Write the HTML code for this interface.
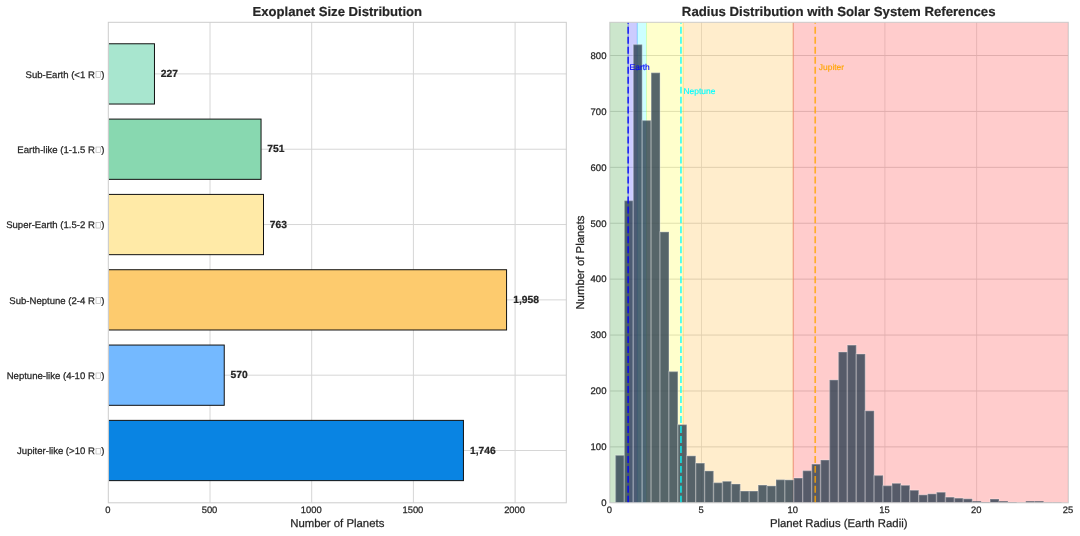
<!DOCTYPE html>
<html><head><meta charset="utf-8"><title>Exoplanet charts</title>
<style>html,body{margin:0;padding:0;background:#fff;}body{width:1080px;height:536px;overflow:hidden;font-family:"Liberation Sans",sans-serif;}svg{display:block;will-change:transform;}text{font-family:"Liberation Sans",sans-serif;text-rendering:geometricPrecision;stroke:#262626;stroke-width:0.25px;}text.b{stroke-width:0.22px;}text.t{stroke-width:0.2px;}text.c{stroke:none;}</style></head><body>
<svg width="1080" height="536" viewBox="0 0 1080 536">
<rect x="0" y="0" width="1080" height="536" fill="#ffffff"/>
<g stroke="#d6d6d6" stroke-width="1" fill="none">
<line x1="210.00" y1="22.3" x2="210.00" y2="502.8"/>
<line x1="311.70" y1="22.3" x2="311.70" y2="502.8"/>
<line x1="413.40" y1="22.3" x2="413.40" y2="502.8"/>
<line x1="515.10" y1="22.3" x2="515.10" y2="502.8"/>
<line x1="108.3" y1="73.90" x2="566.3" y2="73.90"/>
<line x1="108.3" y1="149.22" x2="566.3" y2="149.22"/>
<line x1="108.3" y1="224.54" x2="566.3" y2="224.54"/>
<line x1="108.3" y1="299.86" x2="566.3" y2="299.86"/>
<line x1="108.3" y1="375.18" x2="566.3" y2="375.18"/>
<line x1="108.3" y1="450.50" x2="566.3" y2="450.50"/>
</g>
<clipPath id="lc"><rect x="108.8" y="22.3" width="458.00" height="480.50"/></clipPath>
<g clip-path="url(#lc)">
<rect x="108.30" y="43.77" width="46.17" height="60.26" fill="#A8E6CF" stroke="#111111" stroke-width="1"/>
<rect x="108.30" y="119.09" width="152.75" height="60.26" fill="#88D8B0" stroke="#111111" stroke-width="1"/>
<rect x="108.30" y="194.41" width="155.20" height="60.26" fill="#FFEAA7" stroke="#111111" stroke-width="1"/>
<rect x="108.30" y="269.73" width="398.26" height="60.26" fill="#FDCB6E" stroke="#111111" stroke-width="1"/>
<rect x="108.30" y="345.05" width="115.94" height="60.26" fill="#74B9FF" stroke="#111111" stroke-width="1"/>
<rect x="108.30" y="420.37" width="355.14" height="60.26" fill="#0984E3" stroke="#111111" stroke-width="1"/>
</g>
<rect x="108.3" y="22.3" width="458.00" height="480.50" fill="none" stroke="#cccccc" stroke-width="1"/>
<text x="160.77" y="77.10" class="b" font-size="10.3" font-weight="bold" fill="#262626">227</text>
<text x="267.35" y="152.42" class="b" font-size="10.3" font-weight="bold" fill="#262626">751</text>
<text x="269.80" y="227.74" class="b" font-size="10.3" font-weight="bold" fill="#262626">763</text>
<text x="513.16" y="303.06" class="b" font-size="10.3" font-weight="bold" fill="#262626">1,958</text>
<text x="230.54" y="378.38" class="b" font-size="10.3" font-weight="bold" fill="#262626">570</text>
<text x="470.04" y="453.70" class="b" font-size="10.3" font-weight="bold" fill="#262626">1,746</text>
<text x="94.8" y="77.60" font-size="9.55" text-anchor="end" fill="#262626">Sub-Earth (&lt;1 R</text>
<rect x="96.0" y="71.70" width="4.6" height="5.7" fill="none" stroke="#999999" stroke-width="0.5"/>
<text x="104.4" y="77.60" font-size="9.55" text-anchor="end" fill="#262626">)</text>
<text x="94.8" y="152.92" font-size="9.55" text-anchor="end" fill="#262626">Earth-like (1-1.5 R</text>
<rect x="96.0" y="147.02" width="4.6" height="5.7" fill="none" stroke="#999999" stroke-width="0.5"/>
<text x="104.4" y="152.92" font-size="9.55" text-anchor="end" fill="#262626">)</text>
<text x="94.8" y="228.24" font-size="9.55" text-anchor="end" fill="#262626">Super-Earth (1.5-2 R</text>
<rect x="96.0" y="222.34" width="4.6" height="5.7" fill="none" stroke="#999999" stroke-width="0.5"/>
<text x="104.4" y="228.24" font-size="9.55" text-anchor="end" fill="#262626">)</text>
<text x="94.8" y="303.56" font-size="9.55" text-anchor="end" fill="#262626">Sub-Neptune (2-4 R</text>
<rect x="96.0" y="297.66" width="4.6" height="5.7" fill="none" stroke="#999999" stroke-width="0.5"/>
<text x="104.4" y="303.56" font-size="9.55" text-anchor="end" fill="#262626">)</text>
<text x="94.8" y="378.88" font-size="9.55" text-anchor="end" fill="#262626">Neptune-like (4-10 R</text>
<rect x="96.0" y="372.98" width="4.6" height="5.7" fill="none" stroke="#999999" stroke-width="0.5"/>
<text x="104.4" y="378.88" font-size="9.55" text-anchor="end" fill="#262626">)</text>
<text x="94.8" y="454.20" font-size="9.55" text-anchor="end" fill="#262626">Jupiter-like (&gt;10 R</text>
<rect x="96.0" y="448.30" width="4.6" height="5.7" fill="none" stroke="#999999" stroke-width="0.5"/>
<text x="104.4" y="454.20" font-size="9.55" text-anchor="end" fill="#262626">)</text>
<text x="107.80" y="512.5" font-size="9.4" text-anchor="middle" fill="#262626">0</text>
<text x="209.50" y="512.5" font-size="9.4" text-anchor="middle" fill="#262626">500</text>
<text x="311.20" y="512.5" font-size="9.4" text-anchor="middle" fill="#262626">1000</text>
<text x="412.90" y="512.5" font-size="9.4" text-anchor="middle" fill="#262626">1500</text>
<text x="514.60" y="512.5" font-size="9.4" text-anchor="middle" fill="#262626">2000</text>
<text x="337.30" y="526.7" font-size="11.37" text-anchor="middle" fill="#262626">Number of Planets</text>
<text x="337.30" y="16.4" class="t" font-size="13.1" font-weight="bold" text-anchor="middle" fill="#262626">Exoplanet Size Distribution</text>
<g stroke="#d9d9d9" stroke-width="1" fill="none">
<line x1="701.50" y1="22.3" x2="701.50" y2="502.8" stroke-width="0.75"/>
<line x1="793.20" y1="22.3" x2="793.20" y2="502.8" stroke-width="0.75"/>
<line x1="884.90" y1="22.3" x2="884.90" y2="502.8" stroke-width="0.75"/>
<line x1="976.60" y1="22.3" x2="976.60" y2="502.8" stroke-width="0.75"/>
<line x1="609.8" y1="446.89" x2="1068.3" y2="446.89"/>
<line x1="609.8" y1="390.98" x2="1068.3" y2="390.98"/>
<line x1="609.8" y1="335.06" x2="1068.3" y2="335.06"/>
<line x1="609.8" y1="279.15" x2="1068.3" y2="279.15"/>
<line x1="609.8" y1="223.24" x2="1068.3" y2="223.24"/>
<line x1="609.8" y1="167.33" x2="1068.3" y2="167.33"/>
<line x1="609.8" y1="111.41" x2="1068.3" y2="111.41"/>
<line x1="609.8" y1="55.50" x2="1068.3" y2="55.50"/>
</g>
<clipPath id="rc"><rect x="609.8" y="22.3" width="458.50" height="480.50"/></clipPath>
<g clip-path="url(#rc)">
<rect x="609.80" y="22.3" width="18.34" height="480.50" fill="#008000" fill-opacity="0.2" stroke="#008000" stroke-opacity="0.2" stroke-width="0.94"/>
<rect x="628.14" y="22.3" width="9.17" height="480.50" fill="#0000ff" fill-opacity="0.2" stroke="#0000ff" stroke-opacity="0.2" stroke-width="0.94"/>
<rect x="637.31" y="22.3" width="9.17" height="480.50" fill="#00ffff" fill-opacity="0.2" stroke="#00ffff" stroke-opacity="0.2" stroke-width="0.94"/>
<rect x="646.48" y="22.3" width="36.68" height="480.50" fill="#ffff00" fill-opacity="0.2" stroke="#ffff00" stroke-opacity="0.2" stroke-width="0.94"/>
<rect x="683.16" y="22.3" width="110.04" height="480.50" fill="#ffa500" fill-opacity="0.2" stroke="#ffa500" stroke-opacity="0.2" stroke-width="0.94"/>
<rect x="793.20" y="22.3" width="275.10" height="480.50" fill="#ff0000" fill-opacity="0.2" stroke="#ff0000" stroke-opacity="0.2" stroke-width="0.94"/>
</g>
<rect x="615.45" y="455.29" width="8.92" height="47.51" fill="#2C3E50" fill-opacity="0.8" stroke="#ffffff" stroke-opacity="0.24" stroke-width="1.5"/>
<rect x="624.37" y="200.60" width="8.92" height="302.20" fill="#2C3E50" fill-opacity="0.8" stroke="#ffffff" stroke-opacity="0.24" stroke-width="1.5"/>
<rect x="633.29" y="44.50" width="8.92" height="458.30" fill="#2C3E50" fill-opacity="0.8" stroke="#ffffff" stroke-opacity="0.24" stroke-width="1.5"/>
<rect x="642.21" y="120.40" width="8.92" height="382.40" fill="#2C3E50" fill-opacity="0.8" stroke="#ffffff" stroke-opacity="0.24" stroke-width="1.5"/>
<rect x="651.13" y="72.71" width="8.92" height="430.09" fill="#2C3E50" fill-opacity="0.8" stroke="#ffffff" stroke-opacity="0.24" stroke-width="1.5"/>
<rect x="660.05" y="231.88" width="8.92" height="270.92" fill="#2C3E50" fill-opacity="0.8" stroke="#ffffff" stroke-opacity="0.24" stroke-width="1.5"/>
<rect x="668.97" y="371.51" width="8.92" height="131.29" fill="#2C3E50" fill-opacity="0.8" stroke="#ffffff" stroke-opacity="0.24" stroke-width="1.5"/>
<rect x="677.89" y="424.57" width="8.92" height="78.23" fill="#2C3E50" fill-opacity="0.8" stroke="#ffffff" stroke-opacity="0.24" stroke-width="1.5"/>
<rect x="686.81" y="455.84" width="8.92" height="46.96" fill="#2C3E50" fill-opacity="0.8" stroke="#ffffff" stroke-opacity="0.24" stroke-width="1.5"/>
<rect x="695.73" y="463.10" width="8.92" height="39.70" fill="#2C3E50" fill-opacity="0.8" stroke="#ffffff" stroke-opacity="0.24" stroke-width="1.5"/>
<rect x="704.65" y="470.92" width="8.92" height="31.88" fill="#2C3E50" fill-opacity="0.8" stroke="#ffffff" stroke-opacity="0.24" stroke-width="1.5"/>
<rect x="713.57" y="482.65" width="8.92" height="20.15" fill="#2C3E50" fill-opacity="0.8" stroke="#ffffff" stroke-opacity="0.24" stroke-width="1.5"/>
<rect x="722.49" y="481.26" width="8.92" height="21.54" fill="#2C3E50" fill-opacity="0.8" stroke="#ffffff" stroke-opacity="0.24" stroke-width="1.5"/>
<rect x="731.41" y="483.99" width="8.92" height="18.81" fill="#2C3E50" fill-opacity="0.8" stroke="#ffffff" stroke-opacity="0.24" stroke-width="1.5"/>
<rect x="740.33" y="491.03" width="8.92" height="11.77" fill="#2C3E50" fill-opacity="0.8" stroke="#ffffff" stroke-opacity="0.24" stroke-width="1.5"/>
<rect x="749.25" y="491.03" width="8.92" height="11.77" fill="#2C3E50" fill-opacity="0.8" stroke="#ffffff" stroke-opacity="0.24" stroke-width="1.5"/>
<rect x="758.17" y="485.05" width="8.92" height="17.75" fill="#2C3E50" fill-opacity="0.8" stroke="#ffffff" stroke-opacity="0.24" stroke-width="1.5"/>
<rect x="767.09" y="485.89" width="8.92" height="16.91" fill="#2C3E50" fill-opacity="0.8" stroke="#ffffff" stroke-opacity="0.24" stroke-width="1.5"/>
<rect x="776.01" y="479.64" width="8.92" height="23.16" fill="#2C3E50" fill-opacity="0.8" stroke="#ffffff" stroke-opacity="0.24" stroke-width="1.5"/>
<rect x="784.93" y="479.86" width="8.92" height="22.94" fill="#2C3E50" fill-opacity="0.8" stroke="#ffffff" stroke-opacity="0.24" stroke-width="1.5"/>
<rect x="793.85" y="478.02" width="8.92" height="24.78" fill="#2C3E50" fill-opacity="0.8" stroke="#ffffff" stroke-opacity="0.24" stroke-width="1.5"/>
<rect x="802.77" y="470.64" width="8.92" height="32.16" fill="#2C3E50" fill-opacity="0.8" stroke="#ffffff" stroke-opacity="0.24" stroke-width="1.5"/>
<rect x="811.69" y="464.11" width="8.92" height="38.69" fill="#2C3E50" fill-opacity="0.8" stroke="#ffffff" stroke-opacity="0.24" stroke-width="1.5"/>
<rect x="820.61" y="459.98" width="8.92" height="42.82" fill="#2C3E50" fill-opacity="0.8" stroke="#ffffff" stroke-opacity="0.24" stroke-width="1.5"/>
<rect x="829.53" y="379.89" width="8.92" height="122.91" fill="#2C3E50" fill-opacity="0.8" stroke="#ffffff" stroke-opacity="0.24" stroke-width="1.5"/>
<rect x="838.45" y="351.96" width="8.92" height="150.84" fill="#2C3E50" fill-opacity="0.8" stroke="#ffffff" stroke-opacity="0.24" stroke-width="1.5"/>
<rect x="847.37" y="345.09" width="8.92" height="157.71" fill="#2C3E50" fill-opacity="0.8" stroke="#ffffff" stroke-opacity="0.24" stroke-width="1.5"/>
<rect x="856.29" y="353.97" width="8.92" height="148.83" fill="#2C3E50" fill-opacity="0.8" stroke="#ffffff" stroke-opacity="0.24" stroke-width="1.5"/>
<rect x="865.21" y="410.77" width="8.92" height="92.03" fill="#2C3E50" fill-opacity="0.8" stroke="#ffffff" stroke-opacity="0.24" stroke-width="1.5"/>
<rect x="874.13" y="475.39" width="8.92" height="27.41" fill="#2C3E50" fill-opacity="0.8" stroke="#ffffff" stroke-opacity="0.24" stroke-width="1.5"/>
<rect x="883.05" y="485.61" width="8.92" height="17.19" fill="#2C3E50" fill-opacity="0.8" stroke="#ffffff" stroke-opacity="0.24" stroke-width="1.5"/>
<rect x="891.97" y="483.32" width="8.92" height="19.48" fill="#2C3E50" fill-opacity="0.8" stroke="#ffffff" stroke-opacity="0.24" stroke-width="1.5"/>
<rect x="900.89" y="485.28" width="8.92" height="17.52" fill="#2C3E50" fill-opacity="0.8" stroke="#ffffff" stroke-opacity="0.24" stroke-width="1.5"/>
<rect x="909.81" y="490.19" width="8.92" height="12.61" fill="#2C3E50" fill-opacity="0.8" stroke="#ffffff" stroke-opacity="0.24" stroke-width="1.5"/>
<rect x="918.73" y="494.83" width="8.92" height="7.97" fill="#2C3E50" fill-opacity="0.8" stroke="#ffffff" stroke-opacity="0.24" stroke-width="1.5"/>
<rect x="927.65" y="493.82" width="8.92" height="8.98" fill="#2C3E50" fill-opacity="0.8" stroke="#ffffff" stroke-opacity="0.24" stroke-width="1.5"/>
<rect x="936.57" y="492.20" width="8.92" height="10.60" fill="#2C3E50" fill-opacity="0.8" stroke="#ffffff" stroke-opacity="0.24" stroke-width="1.5"/>
<rect x="945.49" y="497.12" width="8.92" height="5.68" fill="#2C3E50" fill-opacity="0.8" stroke="#ffffff" stroke-opacity="0.24" stroke-width="1.5"/>
<rect x="954.41" y="498.12" width="8.92" height="4.68" fill="#2C3E50" fill-opacity="0.8" stroke="#ffffff" stroke-opacity="0.24" stroke-width="1.5"/>
<rect x="963.33" y="498.79" width="8.92" height="4.01" fill="#2C3E50" fill-opacity="0.8" stroke="#ffffff" stroke-opacity="0.24" stroke-width="1.5"/>
<rect x="972.25" y="501.18" width="8.92" height="1.62" fill="#2C3E50" fill-opacity="0.8" stroke="#ffffff" stroke-opacity="0.24" stroke-width="0.5"/>
<rect x="981.17" y="502.02" width="8.92" height="0.78" fill="#2C3E50" fill-opacity="0.8" stroke="#ffffff" stroke-opacity="0.24" stroke-width="0.5"/>
<rect x="990.09" y="499.02" width="8.92" height="3.78" fill="#2C3E50" fill-opacity="0.8" stroke="#ffffff" stroke-opacity="0.24" stroke-width="1.5"/>
<rect x="999.01" y="501.18" width="8.92" height="1.62" fill="#2C3E50" fill-opacity="0.8" stroke="#ffffff" stroke-opacity="0.24" stroke-width="0.5"/>
<rect x="1007.93" y="502.02" width="8.92" height="0.78" fill="#2C3E50" fill-opacity="0.8" stroke="#ffffff" stroke-opacity="0.24" stroke-width="0.5"/>
<rect x="1016.85" y="502.58" width="8.92" height="0.22" fill="#2C3E50" fill-opacity="0.8" stroke="#ffffff" stroke-opacity="0.24" stroke-width="0.5"/>
<rect x="1025.77" y="501.18" width="8.92" height="1.62" fill="#2C3E50" fill-opacity="0.8" stroke="#ffffff" stroke-opacity="0.24" stroke-width="0.5"/>
<rect x="1034.69" y="501.18" width="8.92" height="1.62" fill="#2C3E50" fill-opacity="0.8" stroke="#ffffff" stroke-opacity="0.24" stroke-width="0.5"/>
<rect x="1043.61" y="502.30" width="8.92" height="0.50" fill="#2C3E50" fill-opacity="0.8" stroke="#ffffff" stroke-opacity="0.24" stroke-width="0.5"/>
<rect x="1052.53" y="502.30" width="8.92" height="0.50" fill="#2C3E50" fill-opacity="0.8" stroke="#ffffff" stroke-opacity="0.24" stroke-width="0.5"/>
<line x1="628.14" y1="502.8" x2="628.14" y2="22.3" stroke="#0000ff" stroke-opacity="0.8" stroke-width="1.65" stroke-dasharray="6.965 3.015"/>
<line x1="680.96" y1="502.8" x2="680.96" y2="22.3" stroke="#00ffff" stroke-opacity="0.8" stroke-width="1.65" stroke-dasharray="6.965 3.015"/>
<line x1="815.21" y1="502.8" x2="815.21" y2="22.3" stroke="#ffa500" stroke-opacity="0.8" stroke-width="1.65" stroke-dasharray="6.965 3.015"/>
<text x="629.6" y="69.9" font-size="8.44" fill="#0000ff" style="stroke:#0000ff;stroke-width:0.15px">Earth</text>
<text x="683.5" y="93.5" font-size="8.44" fill="#00ffff" style="stroke:#00ffff;stroke-width:0.15px">Neptune</text>
<text x="818.8" y="69.9" font-size="8.44" fill="#ffa500" style="stroke:#ffa500;stroke-width:0.15px">Jupiter</text>
<rect x="609.8" y="22.3" width="458.50" height="480.50" fill="none" stroke="#cccccc" stroke-width="1"/>
<text x="609.40" y="512.5" font-size="9.4" text-anchor="middle" fill="#262626">0</text>
<text x="701.10" y="512.5" font-size="9.4" text-anchor="middle" fill="#262626">5</text>
<text x="792.80" y="512.5" font-size="9.4" text-anchor="middle" fill="#262626">10</text>
<text x="884.50" y="512.5" font-size="9.4" text-anchor="middle" fill="#262626">15</text>
<text x="976.20" y="512.5" font-size="9.4" text-anchor="middle" fill="#262626">20</text>
<text x="1067.90" y="512.5" font-size="9.4" text-anchor="middle" fill="#262626">25</text>
<text x="606.5" y="506.10" font-size="9.55" text-anchor="end" fill="#262626">0</text>
<text x="606.5" y="450.19" font-size="9.55" text-anchor="end" fill="#262626">100</text>
<text x="606.5" y="394.28" font-size="9.55" text-anchor="end" fill="#262626">200</text>
<text x="606.5" y="338.36" font-size="9.55" text-anchor="end" fill="#262626">300</text>
<text x="606.5" y="282.45" font-size="9.55" text-anchor="end" fill="#262626">400</text>
<text x="606.5" y="226.54" font-size="9.55" text-anchor="end" fill="#262626">500</text>
<text x="606.5" y="170.63" font-size="9.55" text-anchor="end" fill="#262626">600</text>
<text x="606.5" y="114.71" font-size="9.55" text-anchor="end" fill="#262626">700</text>
<text x="606.5" y="58.80" font-size="9.55" text-anchor="end" fill="#262626">800</text>
<text x="838.7" y="526.7" font-size="11.37" text-anchor="middle" fill="#262626">Planet Radius (Earth Radii)</text>
<text transform="translate(583.9,262.55) rotate(-90)" font-size="11.37" text-anchor="middle" fill="#262626">Number of Planets</text>
<text x="838.7" y="16.4" class="t" font-size="13.2" font-weight="bold" text-anchor="middle" fill="#262626">Radius Distribution with Solar System References</text>
</svg></body></html>
